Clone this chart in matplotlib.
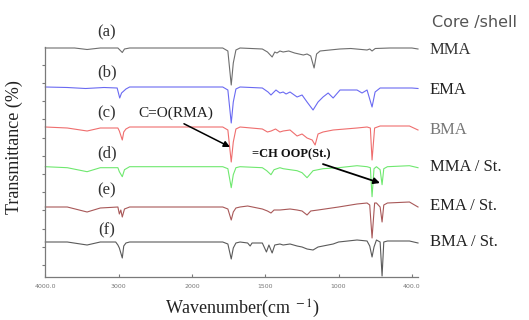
import matplotlib

matplotlib.use("Agg")

import matplotlib.pyplot as plt
import numpy as np

plt.rcParams["font.family"] = ["Liberation Serif", "DejaVu Serif"]
plt.rcParams["mathtext.fontset"] = "stix"

# FTIR spectra: wavenumber (cm-1) and dip relative to each baseline
wn_a = [4000, 3600, 3430, 3250, 3010, 2990, 2950, 2920, 2850, 1790, 1755, 1732, 1718, 1700, 1672,
        1520, 1485, 1453, 1435, 1420, 1400, 1378, 1340, 1300, 1270, 1240, 1215, 1190, 1167, 1150,
        1126, 1060, 990, 900, 767, 745, 726, 700, 580, 400, 350]
tr_a = [0, 0, -1.5, 0, 0, -1.5, -4.5, -1, 0, 0, -3, -37, -15, -2, 0,
        -1, -4, -9, -4, -5, -3, -4, -3, -5, -6, -7, -6, -8, -20, -6,
        -3, -2, -1, -0.5, -2, -1, -3, -0.5, 0, 0, -1]

wn_b = [4000, 3700, 3450, 3200, 3020, 2985, 2960, 2900, 2850, 1790, 1755, 1732, 1718, 1700, 1672,
        1520, 1481, 1461, 1427, 1400, 1378, 1358, 1331, 1283, 1249, 1215, 1174, 1140, 1106, 1071,
        1037, 988, 849, 808, 767, 726, 701, 660, 400, 350]
tr_b = [0, -0.5, -1.5, -0.5, -1, -11, -6, -2, 0, 0, -3, -36, -15, -2, 0,
        -1, -5, -8, -3, -6, -5, -7, -5, -10, -8, -15, -23, -15, -10, -6,
        -11, -3, -3, -6, -3, -20, -5, -1, -1, -1.5]

wn_c = [4000, 3700, 3430, 3250, 3010, 2990, 2950, 2930, 2900, 2850, 1790, 1755, 1732, 1718, 1700,
        1672, 1520, 1485, 1460, 1430, 1400, 1378, 1331, 1283, 1249, 1215, 1180, 1160, 1140, 1106,
        1037, 849, 767, 740, 726, 705, 660, 420, 350]
tr_c = [0, -1, -4, -1, -1, -4, -13, -5, -2, 0, 0, -3, -35, -15, -2,
        0, -2, -5, -4, -2, -5, -4, -3, -9, -7, -11, -13, -18, -7, -5,
        -3, -1, 0, -1, -33, -1, 1, 1, -3]

wn_d = [4000, 3700, 3430, 3250, 3010, 2990, 2950, 2920, 2850, 1790, 1755, 1732, 1718, 1700, 1672,
        1520, 1490, 1461, 1440, 1400, 1378, 1331, 1283, 1249, 1215, 1174, 1140, 1106, 1000, 849,
        767, 740, 726, 710, 690, 660, 644, 630, 600, 420, 350]
tr_d = [0, -1, -5, -1, -1, -5, -10, -3, 0, 0, -2, -21, -8, -1, 0,
        -1, -4, -8, -3, -1, -2, -3, -4, -6, -11, -4, -3, -2, -1, 1,
        0, -1, -30, -2, 0, -3, -18, -2, 0, 1, -1]

wn_e = [4000, 3700, 3430, 3250, 3010, 2990, 2970, 2950, 2920, 2850, 1790, 1755, 1732, 1718, 1700,
        1672, 1620, 1520, 1485, 1461, 1440, 1400, 1331, 1283, 1249, 1215, 1190, 1140, 1000, 849,
        767, 745, 726, 705, 690, 660, 644, 630, 600, 420, 350]
tr_e = [0, 0, -5, -1, 0, -7, -3, -10, -2, 0, 0, -2, -13, -5, -1,
        0, 1, -2, -4, -6, -3, -3, -2, -3, -4, -8, -4, -3, 0, 3,
        4, 2, -31, 4, 4, 0, -15, 2, 4, 5, 0]

wn_f = [4000, 3700, 3430, 3250, 3040, 3010, 2990, 2950, 2930, 2900, 2850, 1790, 1755, 1732, 1718,
        1700, 1672, 1620, 1603, 1590, 1520, 1492, 1475, 1453, 1435, 1400, 1378, 1331, 1283, 1249,
        1215, 1174, 1140, 1106, 1037, 1000, 849, 767, 745, 726, 710, 690, 660, 644, 630, 600, 420, 350]
tr_f = [0, 0, -3, 0, 0, -3, -6, -16, -4, -1, 0, 0, -2, -17, -6,
        -1, 0, -1, -4, -1, -1, -10, -3, -11, -3, -2, -3, -2, -4, -5,
        -7, -8, -5, -4, -2, 0, 2, 1, -4, -15, -5, 2, 0, -34, 0, 1, 1, -1]

tags = ["(a)", "(b)", "(c)", "(d)", "(e)", "(f)"]
samples = ["MMA", "EMA", "BMA", "MMA / St.", "EMA / St.", "BMA / St."]
baselines = [229, 190, 150, 110.3, 70, 35]

colors = ["#6e6e6e", "#6a6af2", "#ef6e6e", "#6fe86f", "#a85858", "#5a5a5a"]
sample_colors = ["#333333", "#222222", "#777777", "#222222", "#222222", "#222222"]

# x axis is evenly spaced at the labelled wavenumbers (scale break at 2000)
tick_wn = [4000, 3000, 2000, 1500, 1000, 400]
tick_txt = ["4000.0", "3000", "2000", "1500", "1000", "400.0"]
scale_wn = [-200, 400, 1000, 1500, 2000, 3000, 4000, 5000]
scale_v = [-6, -5, -4, -3, -2, -1, 0, 1]


def fwd(w):
    return np.interp(w, scale_wn, scale_v)


def inv(v):
    return np.interp(v, scale_v, scale_wn)


W, H = 529, 320
fig = plt.figure(figsize=(W / 100, H / 100), dpi=100)
ax = fig.add_axes([45.3 / W, 43 / H, (418 - 45.3) / W, 230 / H])
ax.set_xscale("function", functions=(fwd, inv))
ax.set_xlim(4000, 350)
ax.set_ylim(0, 230)

spectra = [(wn_a, tr_a), (wn_b, tr_b), (wn_c, tr_c), (wn_d, tr_d), (wn_e, tr_e), (wn_f, tr_f)]
for (wn, tr), base, color in zip(spectra, baselines, colors):
    ax.plot(wn, base + np.array(tr), color=color, lw=0.8, clip_on=False)

for spine in ["top", "right"]:
    ax.spines[spine].set_visible(False)
for spine in ["left", "bottom"]:
    ax.spines[spine].set_color("#7a7a7a")
    ax.spines[spine].set_linewidth(0.9)

ax.set_xticks(tick_wn)
ax.set_xticklabels(tick_txt, fontsize=4.5, color="#777777", family="DejaVu Sans")
ax.xaxis.set_minor_locator(plt.NullLocator())
ax.tick_params(axis="x", direction="in", length=2, color="#7a7a7a", pad=5)
ax.set_yticks(np.arange(12, 230, 18.2))
ax.set_yticklabels([])
ax.tick_params(axis="y", direction="out", length=2, color="#7a7a7a")

# sample tags and core/shell names
tag_y = [32, 72, 113, 153, 190, 230]
for tag, py in zip(tags, tag_y):
    fig.text(107 / W, 1 - py / H, tag, ha="center", va="center", fontsize=12, color="#333333")

name_y = [50, 90, 130, 167, 206, 242]
for name, py, c in zip(samples, name_y, sample_colors):
    fig.text(430 / W, 1 - py / H, name, ha="left", va="center", fontsize=12, color=c)

fig.text(432 / W, 1 - 23 / H, "Core /shell", ha="left", va="center", fontsize=11.5,
         color="#555555", family="DejaVu Sans")

fig.text(14 / W, 1 - 147 / H, "Transmittance (%)", rotation=90, ha="center", va="center",
         fontsize=13, color="#222222")
fig.text(242 / W, 1 - 309 / H, r"Wavenumber(cm$^{\ -1}$)", ha="center", va="center",
         fontsize=13, color="#222222")

# peak annotations
ax.annotate("C=O(RMA)", xy=(230 / W, 1 - 147 / H), xycoords="figure fraction",
            xytext=(176 / W, 1 - 113 / H), textcoords="figure fraction",
            ha="center", va="center", fontsize=11, color="#222222",
            arrowprops=dict(arrowstyle="-|>", color="black", lw=1.1, mutation_scale=9,
                            shrinkA=2, shrinkB=0, relpos=(0.5, 0.0)))
ax.annotate("=CH OOP(St.)", xy=(380 / W, 1 - 183 / H), xycoords="figure fraction",
            xytext=(291 / W, 1 - 154 / H), textcoords="figure fraction",
            ha="center", va="center", fontsize=9, color="#111111", weight="bold",
            arrowprops=dict(arrowstyle="-|>", color="black", lw=1.3, mutation_scale=9,
                            shrinkA=3, shrinkB=0, relpos=(0.75, 0.0)))

fig.savefig("out.png", dpi=100)
